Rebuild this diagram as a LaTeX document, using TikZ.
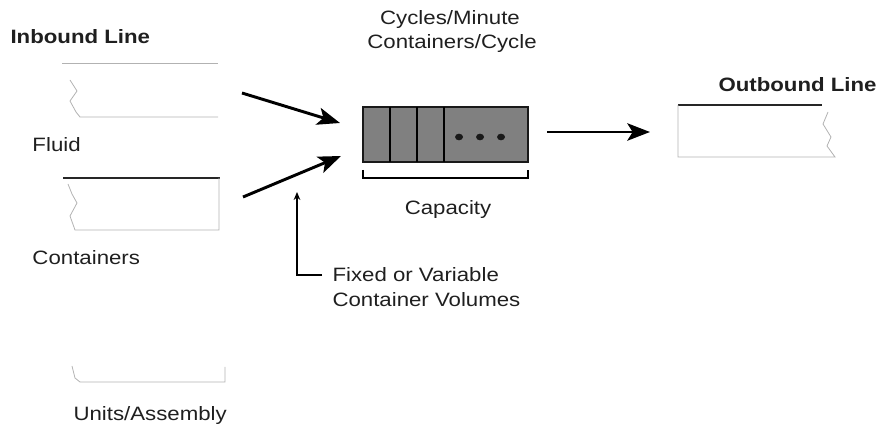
\documentclass[tikz,border=0pt]{standalone}
\usepackage{fontspec}
\setmainfont[FakeStretch=1.15]{Liberation Sans}
\usetikzlibrary{arrows.meta,positioning}

\tikzset{every picture/.style={line width=0.75pt}}
\tikzset{
  lbl/.style={font=\fontsize{14.5}{17}\selectfont, text=black!88, inner sep=0pt},
  ttl/.style={lbl, font=\fontsize{14.5}{17}\selectfont\bfseries},
  pipe/.style={draw=black!30, line width=0.6pt},
  pipetop/.style={draw=black!85, line width=1.3pt},
  feed/.style={line width=2.2pt, -{Stealth[length=17pt,width=13pt,inset=4pt]}}
}

\begin{document}
\begin{tikzpicture}[x=0.75pt,y=0.75pt,yscale=-1,xscale=1]
	\useasboundingbox (0,0) rectangle (883,431);

	%Shape: Pipe [id:fluid]
	\draw [pipe] (62,63) -- (218,63) ;
	\draw [pipe] (70,80) -- (77,91) -- (70,101) -- (76,112) -- (80,117) -- (218,117) ;
	%Shape: Pipe [id:containers]
	\draw [pipetop] (63,178) -- (220,178) ;
	\draw [pipe] (219,178) -- (219,230) -- (75,230) -- (70,216) -- (77,203) -- (72,194) -- (68,184) ;
	%Shape: Pipe [id:units]
	\draw [pipe] (72,366) -- (75,378) -- (80,382) -- (225,382) -- (225,367) ;
	%Shape: Pipe [id:outbound]
	\draw [pipetop] (678,105) -- (822,105) ;
	\draw [pipe] (678,105) -- (678,157) -- (835,157) -- (827,146) -- (831,137) -- (823,124) -- (828,112) ;

	%Shape: Buffer
	\node [draw=black!90, line width=2pt, fill=black!50, minimum width=165*0.75pt, minimum height=55*0.75pt, inner sep=0pt] (buf) at (445.5,134.5) {};
	\draw [line width=1.3pt] (390,107) -- (390,162) (417,107) -- (417,162) (444,107) -- (444,162) ;
	\foreach \dx in {459,480,501}
		\fill [black!90] (\dx,137) ellipse (4 and 3.3) ;
	%Straight Lines [id:bracket]
	\coordinate (brl) at (363,178) ;
	\coordinate (brr) at (528,178) ;
	\draw [line width=1.2pt] (363,170) -- (brl) -- (brr) -- (528,170) ;

	%Straight Lines [id:feeds]
	\coordinate (fluidout) at (242,93) ;
	\coordinate (fluidin) at (340,123) ;
	\coordinate (contout) at (243,197) ;
	\coordinate (contin) at (341,156) ;
	\coordinate (bufout) at (547,132) ;
	\coordinate (outin) at (650,132) ;
	\draw [feed] (fluidout) -- (fluidin) ;
	\draw [feed] (contout) -- (contin) ;
	\draw [feed] (bufout) -- (outin) ;

	% Text Node
	\node [ttl, anchor=west] (inbound) at (10,37) {Inbound Line};
	% Text Node
	\node [ttl, anchor=west] (outbound) at (718,85) {Outbound Line};
	% Text Node
	\node [lbl, anchor=west] (fluid) at (32,145) {Fluid};
	% Text Node
	\node [lbl, anchor=west] (containers) at (32,258) {Containers};
	% Text Node
	\node [lbl, anchor=west] (units) at (73,416) {Units/Assembly};
	% Text Node
	\node [lbl] (cycles) at (450,20) {Cycles/Minute};
	% Text Node
	\node [lbl] (percycle) at (452,44) {Containers/Cycle};
	% Text Node
	\node [lbl] (capacity) at (448,210) {Capacity};
	% Text Node
	\node [lbl, anchor=west] (fixed) at (332,275) {Fixed or Variable};
	% Text Node
	\node [lbl, below=9*0.75pt of fixed.south west, anchor=north west] (volumes) {Container Volumes};

	%Straight Lines [id:volarrow]
	\coordinate (voltip) at (297,192) ;
	\draw [line width=1pt, -{Stealth[length=6pt,width=5pt]}] ([xshift=-10*0.75pt]fixed.west) -| (voltip) ;

\end{tikzpicture}
\end{document}
